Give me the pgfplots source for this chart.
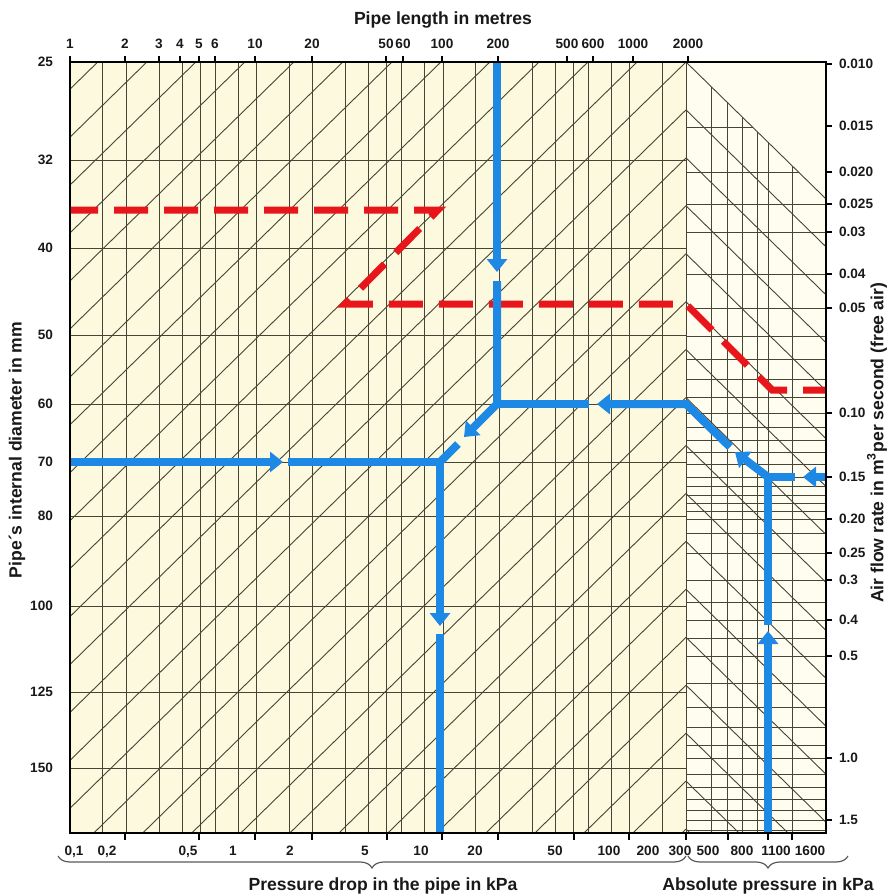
\documentclass[border=0pt]{standalone}
\usepackage{fontspec}
\setmainfont{Liberation Sans}
\usepackage{pgfplots}
\pgfplotsset{compat=1.18}
\usetikzlibrary{arrows.meta,decorations.pathreplacing}
\definecolor{mainbg}{RGB}{252,249,222}
\definecolor{rightbg}{RGB}{255,253,240}
\definecolor{gridc}{RGB}{70,68,52}
\definecolor{flowblue}{RGB}{30,136,229}
\definecolor{flowred}{RGB}{232,22,26}
\begin{document}
\begin{tikzpicture}
\useasboundingbox (-35pt,-31pt) rectangle (410pt,416.5pt);
\begin{axis}[
  at={(0pt,0pt)}, anchor=south west,
  scale only axis, width=378pt, height=385.5pt,
  xmin=70, xmax=826, ymin=62, ymax=833, y dir=reverse,
  axis on top,
  axis line style={line width=1.1pt, black},
  xtick pos=left, ytick pos=left,
  major tick length=0pt,
  xtick={74,107,188,233,290,365,421,475,555,609,648,680,708,742,776,810},
  xticklabels={{0,1},{0,2},{0,5},1,2,5,10,20,50,100,200,300,500,800,1100,1600},
  extra x ticks={125,199,255,312,387,442,498,574,629,686,728,768,792},
  extra x tick labels={},
  extra x tick style={major tick length=3.5pt, tick align=outside, tick style={line width=0.6pt, black}},
  ytick={62,160,248,335,404,462,516,606,692,768},
  yticklabels={25,32,40,50,60,70,80,100,125,150},
  ticklabel style={font=\bfseries\fontsize{6.8}{8}\selectfont, text=black!90},
  xticklabel style={yshift=-3pt},
  yticklabel style={xshift=-5pt},
  unbounded coords=jump,
  gl/.style={gridc, line width=0.45pt},
  bl/.style={flowblue, line width=4pt, line join=miter},
  barr/.style={bl, -{Triangle[width=10pt,length=6.5pt]}},
]
% backgrounds
\addplot[draw=none, fill=mainbg] coordinates {(70,62) (686,62) (686,833) (70,833)};
\addplot[draw=none, fill=rightbg] coordinates {(686,62) (826,62) (826,833) (686,833)};
% main vertical lines (pipe length)
\pgfplotsinvokeforeach{102.8,126.1,159.0,182.3,200.3,215.1,238.4,256.5,289.3,312.6,345.5,368.8,386.8,401.6,424.9,443,475.8,499.1,532,555.3,573.4,588.1,611.4,629.5,662.3,686}{
  \addplot[gl] coordinates {(#1,62) (#1,833)};
}
% main horizontal lines (diameter)
\pgfplotsinvokeforeach{160,248,335,404,462,516,606,692,768}{
  \addplot[gl] coordinates {(70,#1) (686,#1)};
}
% main diagonal lines
\addplot[gl] coordinates {
(686,-513.3) (-114,269.1) (nan,nan)
(686,-465.3) (-114,317.1) (nan,nan)
(686,-417.4) (-114,365.0) (nan,nan)
(686,-369.5) (-114,412.9) (nan,nan)
(686,-321.5) (-114,460.9) (nan,nan)
(686,-273.6) (-114,508.8) (nan,nan)
(686,-225.6) (-114,556.8) (nan,nan)
(686,-177.7) (-114,604.7) (nan,nan)
(686,-129.8) (-114,652.6) (nan,nan)
(686,-81.8) (-114,700.6) (nan,nan)
(686,-33.9) (-114,748.5) (nan,nan)
(686,14.1) (-114,796.5) (nan,nan)
(686,62) (-114,844.4) (nan,nan)
(686,109.9) (-114,892.3) (nan,nan)
(686,157.9) (-114,940.3) (nan,nan)
(686,205.8) (-114,988.2) (nan,nan)
(686,253.8) (-114,1036.2) (nan,nan)
(686,301.7) (-114,1084.1) (nan,nan)
(686,349.6) (-114,1132.0) (nan,nan)
(686,397.6) (-114,1180.0) (nan,nan)
(686,445.5) (-114,1227.9) (nan,nan)
(686,493.5) (-114,1275.9) (nan,nan)
(686,541.4) (-114,1323.8) (nan,nan)
(686,589.3) (-114,1371.7) (nan,nan)
(686,637.3) (-114,1419.7) (nan,nan)
(686,685.2) (-114,1467.6) (nan,nan)
(686,733.2) (-114,1515.6) (nan,nan)
(686,781.1) (-114,1563.5) (nan,nan)
(686,829) (-114,1611.4)
};
% right region vertical lines (absolute pressure)
\addplot[gl] coordinates {
(711,86.5) (711,833) (nan,nan)
(727,102) (727,833) (nan,nan)
(742,117) (742,833) (nan,nan)
(757,131.5) (757,833) (nan,nan)
(768,142) (768,833) (nan,nan)
(792,166) (792,833)
};
% right region horizontal lines (air flow rate)
\addplot[gl] coordinates {(686,127) (752.5,127) (nan,nan) (686,172) (798.5,172)};
\pgfplotsinvokeforeach{204,232,274,308,336,359,379,397,413,427,440,452,464,477,486,495,503,511,519,533,553,580,602,620,638,656,683,707,727,745,758,774,787,799,810,820,830}{
  \addplot[gl] coordinates {(686,#1) (826,#1)};
}
% right region diagonal lines
\addplot[gl] coordinates {
(686,62) (886,257.6) (nan,nan)
(686,109.9) (886,305.5) (nan,nan)
(686,157.9) (886,353.5) (nan,nan)
(686,205.8) (886,401.4) (nan,nan)
(686,253.8) (886,449.4) (nan,nan)
(686,301.7) (886,497.3) (nan,nan)
(686,349.6) (886,545.2) (nan,nan)
(686,397.6) (886,593.2) (nan,nan)
(686,445.5) (886,641.1) (nan,nan)
(686,493.5) (886,689.1) (nan,nan)
(686,541.4) (886,737.0) (nan,nan)
(686,589.3) (886,784.9) (nan,nan)
(686,637.3) (886,832.9) (nan,nan)
(686,685.2) (886,880.8) (nan,nan)
(686,733.2) (886,928.8) (nan,nan)
(686,781.1) (886,976.7) (nan,nan)
(686,829) (886,1024.6)
};
% red dashed example
\addplot[flowred, line width=3.5pt, line join=miter, dash pattern=on 17pt off 8pt, dash phase=3pt]
  coordinates {(70,210) (438,210) (345,304) (686,304) (772,390) (826,390)};
% blue example
\addplot[barr] coordinates {(70,462) (283,462)};
\addplot[barr] coordinates {(288,462) (440,462) (440,626)};
\addplot[bl] coordinates {(440,634) (440,833)};
\addplot[bl] coordinates {(458,444) (440,462)};
\addplot[barr] coordinates {(497,62) (497,272)};
\addplot[barr] coordinates {(497,281) (497,404) (464,437)};
\addplot[bl] coordinates {(589,404) (497,404)};
\addplot[barr] coordinates {(730,447) (686,404) (597,404)};
\addplot[barr] coordinates {(768,477) (735,452)};
\addplot[bl] coordinates {(795,477) (768,477) (768,625)};
\addplot[barr] coordinates {(826,477) (803,477)};
\addplot[barr] coordinates {(768,833) (768,631)};
\end{axis}
\begin{axis}[
  at={(0pt,0pt)}, anchor=south west,
  scale only axis, width=378pt, height=385.5pt,
  xmin=70, xmax=826, ymin=62, ymax=833, y dir=reverse,
  axis line style={draw=none},
  xtick pos=right, xticklabel pos=right,
  ytick pos=right, yticklabel pos=right,
  tick align=outside, major tick length=3pt,
  tick style={line width=0.6pt, black},
  xtick={70,125,159,180,199,215,255,312,386,403,442,498,567,593,633,688},
  xticklabels={1,2,3,4,5,6,10,20,50,60,100,200,500,600,1000,2000},
  ytick={64,126,172,204,232,274,308,413,477,519,553,580,620,656,758,820},
  yticklabels={0.010,0.015,0.020,0.025,0.03,0.04,0.05,0.10,0.15,0.20,0.25,0.3,0.4,0.5,1.0,1.5},
  ticklabel style={font=\bfseries\fontsize{6.8}{8}\selectfont, text=black!90},
]
\addplot[draw=none] coordinates {(70,62)};
\end{axis}
\begin{scope}[every node/.style={font=\bfseries\fontsize{8.8}{10}\selectfont, text=black!90}]
\node at (186.5pt,406.5pt) {Pipe length in metres};
\node[rotate=90] at (-26.5pt,191.5pt) {Pipe´s internal diameter in mm};
\node[rotate=90] at (403.5pt,195pt) {Air flow rate in m\textsuperscript{3}per second (free air)};
\node at (156.5pt,-26.5pt) {Pressure drop in the pipe in kPa};
\node at (349pt,-26.5pt) {Absolute pressure in kPa};
\end{scope}
\draw[decorate, decoration={brace, mirror, amplitude=6pt}, line width=0.6pt, black!65]
  (-6pt,-11.5pt) -- (308pt,-11.5pt);
\draw[decorate, decoration={brace, mirror, amplitude=6pt}, line width=0.6pt, black!65]
  (309pt,-11.5pt) -- (389pt,-11.5pt);
\end{tikzpicture}
\end{document}
